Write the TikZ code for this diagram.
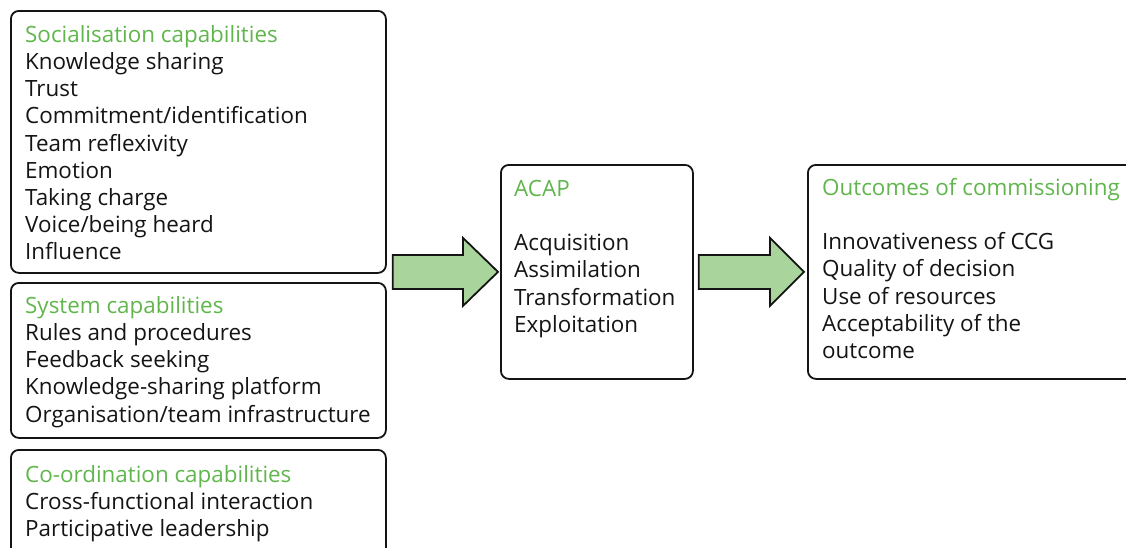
\documentclass[tikz,border=0pt]{standalone}
\usepackage{fontspec}
\setmainfont{Open Sans}
\usetikzlibrary{calc}
\definecolor{titlegreen}{RGB}{96,182,76}
\definecolor{arrowgreen}{RGB}{169,212,155}
\definecolor{ink}{RGB}{20,20,20}
\newcommand{\toprule}{\rule{0pt}{20pt}}
\newcommand{\heading}[1]{\textcolor{titlegreen}{#1}}
\begin{document}
\begin{tikzpicture}[x=1pt,y=-1pt,
  panel/.style={draw=ink, line width=1.8pt, rounded corners=8pt, inner sep=0pt, anchor=north west},
  body/.style={anchor=north west, inner sep=0pt, align=left, text=ink,
               font=\fontsize{22.4}{27.2}\selectfont},
  blockarrow/.style={draw=ink, line width=1.8pt, fill=arrowgreen, line join=miter}]
\useasboundingbox (0,0) rectangle (1126,547);
\clip (0,0) rectangle (1126,547);

% capability panels on the left
\node[panel, minimum width=375pt, minimum height=262pt] (soc) at (10,10) {};
\node[panel, minimum width=375pt, minimum height=155pt] (sys) at (10,282) {};
\node[panel, minimum width=375pt, minimum height=131pt] (coord) at (10,449) {};
% absorptive capacity and outcomes
\node[panel, minimum width=192pt, minimum height=214pt] (acap) at (500,164) {};
\node[panel, minimum width=343pt, minimum height=214pt] (outc) at (807,164) {};

\node[body] (soctext) at (25,22) {\toprule\heading{Socialisation capabilities}\\
  Knowledge sharing\\ Trust\\ Commitment/identification\\ Team reflexivity\\
  Emotion\\ Taking charge\\ Voice/being heard\\ Influence};
\node[body] (systext) at (25,293) {\toprule\heading{System capabilities}\\
  Rules and procedures\\ Feedback seeking\\ Knowledge-sharing platform\\
  Organisation/team infrastructure};
\node[body] (coordtext) at (25,462) {\toprule\heading{Co-ordination capabilities}\\
  Cross-functional interaction\\ Participative leadership};
\node[body] (acaptext) at (514,176) {\toprule\heading{ACAP}\\[27.2pt]
  Acquisition\\ Assimilation\\ Transformation\\ Exploitation};
\node[body] (outctext) at (822,175) {\toprule\heading{Outcomes of commissioning}\\[27.2pt]
  Innovativeness of CCG\\ Quality of decision\\ Use of resources\\
  Acceptability of the\\ outcome};

% block arrows
\coordinate (a1tail) at ($(soc.south east)+(6,-1)$);
\coordinate (a1tip) at ($(acap.west)+(-2,0)$);
\coordinate (a2tail) at ($(acap.east)+(5,0)$);
\coordinate (a2tip) at ($(outc.west)+(-3,0)$);
\draw[blockarrow] let \p1=(a1tail), \p2=(a1tip) in
  (\x1,\y2+17pt) -- (\x2-35pt,\y2+17pt) -- (\x2-35pt,\y2+34pt) -- (\x2,\y2)
  -- (\x2-35pt,\y2-34pt) -- (\x2-35pt,\y2-17pt) -- (\x1,\y2-17pt) -- cycle;
\draw[blockarrow] let \p1=(a2tail), \p2=(a2tip) in
  (\x1,\y2+17pt) -- (\x2-34pt,\y2+17pt) -- (\x2-34pt,\y2+34pt) -- (\x2,\y2)
  -- (\x2-34pt,\y2-34pt) -- (\x2-34pt,\y2-17pt) -- (\x1,\y2-17pt) -- cycle;
\end{tikzpicture}
\end{document}
